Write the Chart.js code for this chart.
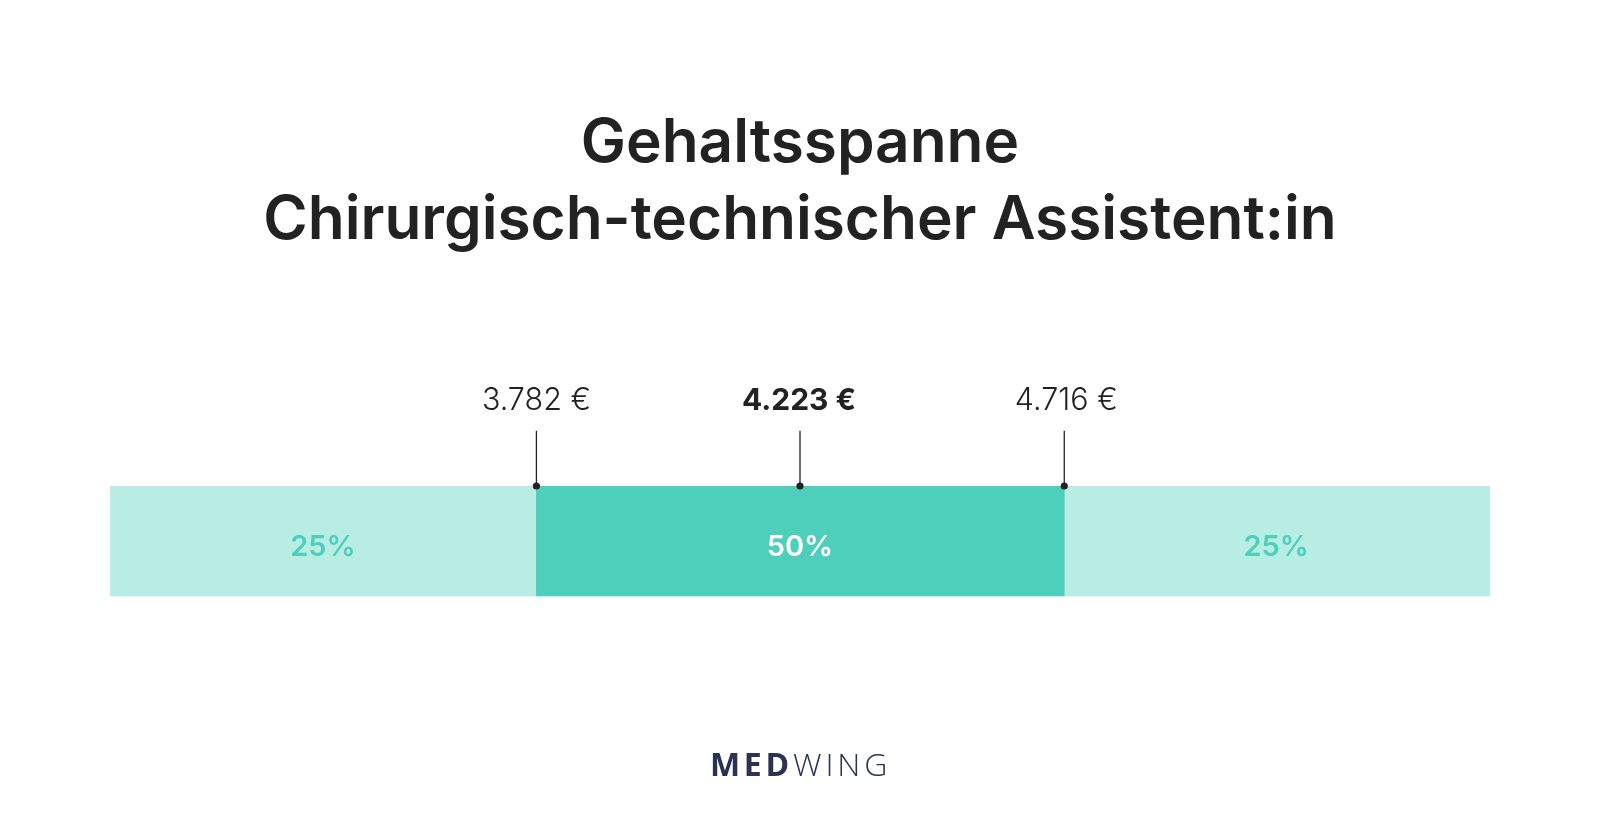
<!DOCTYPE html>
<html lang="de">
<head>
<meta charset="utf-8">
<title>Gehaltsspanne</title>
<script src="https://cdn.jsdelivr.net/npm/chart.js@4"></script>
<style>
  html, body { margin: 0; background: #fff; }
  #wrap { position: relative; width: 1600px; height: 838px; overflow: hidden; }
  canvas { position: absolute; left: 0; top: 0; }
  #logo {
    position: absolute; left: 1px; right: 0; top: 742px; text-align: center;
    font: 300 32px "Open Sans", sans-serif; letter-spacing: 3.8px; color: #2b3252; line-height: 44px;
  }
  #logo b { font-weight: 700; }
</style>
</head>
<body>
<div id="wrap">
  <canvas id="chart" width="1600" height="838"></canvas>
  <div id="logo"><b>MED</b>WING</div>
</div>
<script>
const titleLines = ['Gehaltsspanne', 'Chirurgisch-technischer Assistent:in'];

// band edges as share of the bar width, the drawing is not to salary scale
const segmentEdges = [0, 30.85, 69.15, 100];
const segmentLabels = ['25%', '50%', '25%'];
const segmentColors = ['#b8ede4', '#4ecfbc', '#b8ede4'];
const segmentLabelColors = ['#4ecfbc', '#ffffff', '#4ecfbc'];

const markerPositions = [30.9, 50, 69.15];
const markerLabels = ['3.782 €', '4.223 €', '4.716 €'];
const markerWeights = [300, 700, 300];
const markerSizes = [30.5, 30, 30.5];
const markerLabelShift = [0, -1, 2];

const FONT = 'Inter, sans-serif';

const segmentDatasets = segmentLabels.map((label, i) => ({
  type: 'bar',
  label,
  indexAxis: 'y',
  xAxisID: 'x',
  yAxisID: 'y',
  grouped: false,
  barPercentage: 1,
  categoryPercentage: 1,
  backgroundColor: segmentColors[i],
  data: [[segmentEdges[i], segmentEdges[i + 1]]],
}));

const markerDatasets = markerPositions.map((x, i) => ({
  type: 'line',
  label: markerLabels[i],
  xAxisID: 'x',
  yAxisID: 'yStem',
  clip: false,
  borderColor: '#222222',
  borderWidth: 1.3,
  pointBackgroundColor: '#222222',
  pointBorderWidth: 0,
  pointRadius: [3.6, 0],
  data: [{ x, y: 1 }, { x, y: 1.5 }],
}));

const labelPlugin = {
  id: 'textLabels',
  afterDraw(chart) {
    const { ctx, scales } = chart;
    ctx.save();
    ctx.textAlign = 'center';
    ctx.textBaseline = 'middle';

    ctx.font = '600 29px ' + FONT;
    segmentLabels.forEach((label, i) => {
      const bar = chart.getDatasetMeta(i + markerDatasets.length).data[0];
      ctx.fillStyle = segmentLabelColors[i];
      ctx.fillText(label, (bar.x + bar.base) / 2 - (i === 2 ? 1 : 0), bar.y + 6);
    });

    ctx.fillStyle = '#222222';
    markerLabels.forEach((label, i) => {
      ctx.font = markerWeights[i] + ' ' + markerSizes[i] + 'px ' + FONT;
      ctx.fillText(label, scales.x.getPixelForValue(markerPositions[i]) + markerLabelShift[i], scales.yStem.getPixelForValue(1.77));
    });
    ctx.restore();
  },
};

new Chart(document.getElementById('chart'), {
  data: {
    labels: ['Gehalt'],
    datasets: [...markerDatasets, ...segmentDatasets],
  },
  options: {
    responsive: false,
    animation: false,
    layout: { padding: { left: 110, right: 110, top: 105, bottom: 241.5 } },
    scales: {
      x: { type: 'linear', axis: 'x', min: 0, max: 100, display: false },
      y: { type: 'category', axis: 'y', offset: true, display: false },
      yStem: { type: 'linear', axis: 'y', min: 0, max: 1, display: false },
    },
    plugins: {
      legend: { display: false },
      tooltip: { enabled: false },
      title: {
        display: true,
        text: titleLines,
        color: '#222222',
        font: { family: FONT, size: 60.3, weight: '600', lineHeight: '77px' },
        padding: { top: 0, bottom: 227 },
      },
    },
  },
  plugins: [labelPlugin],
});
</script>
</body>
</html>
